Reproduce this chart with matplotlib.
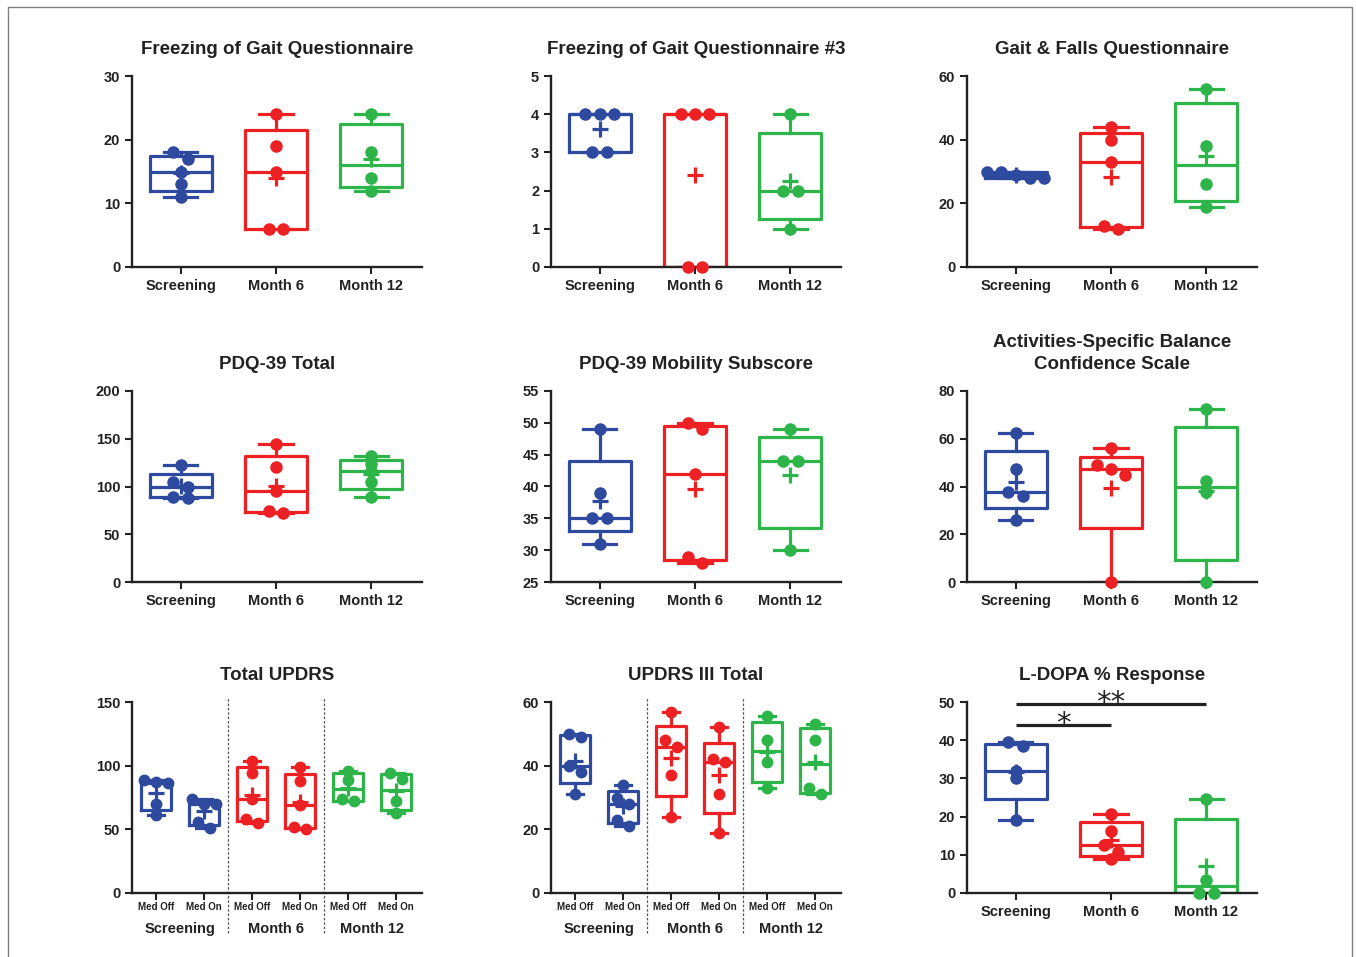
import numpy as np
import matplotlib.pyplot as plt
from matplotlib.patches import Rectangle

plt.rcParams['font.family'] = ['Liberation Sans', 'DejaVu Sans']
plt.rcParams['font.weight'] = 'bold'
plt.rcParams['axes.titleweight'] = 'bold'

visits = ['Screening', 'Month 6', 'Month 12']
med_states = ['Med Off', 'Med On']
colors = ['#2e4a9e', '#ed2024', '#2db54a']

# one list per visit (screening, month 6, month 12)
fogq = [[18, 17, 15, 13, 11], [24, 19, 15, 6, 6], [24, 18, 14, 12]]
fogq3 = [[4, 4, 4, 3, 3], [4, 4, 4, 0, 0], [4, 2, 2, 1]]
gfq = [[28, 30, 29, 30, 28], [44, 40, 33, 13, 12], [56, 38, 26, 19]]
pdq_total = [[122, 105, 100, 89, 88], [144, 120, 95, 74, 72], [132, 124, 116, 105, 89]]
pdq_mobility = [[49, 39, 35, 35, 31], [50, 49, 42, 29, 28], [49, 44, 44, 30]]
abc = [[62.5, 47.5, 37.5, 36, 26], [56, 48.8, 47.5, 45, 0], [72.5, 42.5, 37.5, 0]]
ldopa = [[39.5, 38.5, 32, 30, 19], [20.8, 16.2, 12.5, 10.8, 8.8], [24.5, 3.5, 0, 0]]

# med off / med on at each visit
updrs_total = [[89, 87, 86, 70, 61], [74, 70, 70, 56, 51],
               [104, 94, 74, 58, 55], [99, 88, 69, 52, 50],
               [96, 89, 74, 72], [94.5, 89.8, 72.5, 62.8]]
updrs3 = [[50, 49, 40, 38, 31], [34, 30, 28, 23, 21],
          [57, 48, 46, 37, 24], [52, 42, 41, 31, 19],
          [55.5, 48, 41, 33], [53, 48, 33, 31]]

# significance brackets on the L-DOPA panel: (from, to, height, stars)
ldopa_sig = [(0, 1, 44, '*'), (0, 2, 49.5, '**')]

ink = '#222222'


def spread(vals, thr, step):
    # side-by-side offsets for points that would sit on top of each other
    order = np.argsort(vals)[::-1]
    offs = np.zeros(len(vals))
    groups = [[order[0]]]
    for k in order[1:]:
        if vals[groups[-1][-1]] - vals[k] < thr:
            groups[-1].append(k)
        else:
            groups.append([k])
    for g in groups:
        for i, k in enumerate(g):
            offs[k] = (i - (len(g) - 1) / 2) * step
    return offs


def panel(ax, data, cols, ylim, yticks, title, bw, cw, step, ms):
    pos = np.arange(len(data))
    stats = []
    for v in data:
        q1, med, q3 = np.percentile(v, [25, 50, 75], method='weibull')
        stats.append(dict(med=med, q1=q1, q3=q3, whislo=min(v), whishi=max(v),
                          mean=np.mean(v), fliers=[]))
    bp = ax.bxp(stats, positions=pos, widths=bw, capwidths=cw, showmeans=True,
                manage_ticks=False,
                meanprops=dict(marker='+', markersize=11, markeredgewidth=2.3))
    for i, c in enumerate(cols):
        bp['boxes'][i].set(color=c, linewidth=2.3)
        bp['medians'][i].set(color=c, linewidth=2.3)
        bp['means'][i].set(color=c, markeredgecolor=c, zorder=4)
        for art in bp['whiskers'][2 * i:2 * i + 2] + bp['caps'][2 * i:2 * i + 2]:
            art.set(color=c, linewidth=2.3)
        v = np.array(data[i], dtype=float)
        offs = spread(v, 0.035 * (ylim[1] - ylim[0]), step)
        ax.plot(pos[i] + offs, v, 'o', color=c, ms=ms, zorder=3, clip_on=False)
    ax.set_ylim(*ylim)
    ax.set_yticks(yticks)
    ax.set_title(title, fontsize=13.5, pad=15.5, color=ink, linespacing=1.4)
    for s in ['top', 'right']:
        ax.spines[s].set_visible(False)
    for s in ['left', 'bottom']:
        ax.spines[s].set_linewidth(1.7)
        ax.spines[s].set_color(ink)
    ax.tick_params(width=1.5, length=5, color=ink, labelcolor=ink, labelsize=10.5)
    ax.set_xticks(pos)


fig = plt.figure(figsize=(13.56, 9.57), dpi=100)
W, H = 1356, 957
lefts = [132, 551, 967]
tops = [76, 391, 702]


def make_ax(r, c):
    return fig.add_axes([lefts[c] / W, 1 - (tops[r] + 191) / H, 290 / W, 191 / H])


three = [
    (fogq, (0, 30), [0, 10, 20, 30], 'Freezing of Gait Questionnaire'),
    (fogq3, (0, 5), range(6), 'Freezing of Gait Questionnaire #3'),
    (gfq, (0, 60), [0, 20, 40, 60], 'Gait & Falls Questionnaire'),
    (pdq_total, (0, 200), [0, 50, 100, 150, 200], 'PDQ-39 Total'),
    (pdq_mobility, (25, 55), range(25, 56, 5), 'PDQ-39 Mobility Subscore'),
    (abc, (0, 80), [0, 20, 40, 60, 80], 'Activities-Specific Balance\nConfidence Scale'),
]
for n, (data, ylim, yt, title) in enumerate(three):
    ax = make_ax(n // 3, n % 3)
    panel(ax, data, colors, ylim, yt, title, 0.65, 0.35, 0.15, 8)
    ax.set_xlim(-0.51, 2.53)
    ax.set_xticklabels(visits)

# paired med off / med on panels
pair_cols = [colors[0], colors[0], colors[1], colors[1], colors[2], colors[2]]
for c, (data, ylim, yt, title) in enumerate([
        (updrs_total, (0, 150), [0, 50, 100, 150], 'Total UPDRS'),
        (updrs3, (0, 60), [0, 20, 40, 60], 'UPDRS III Total')]):
    ax = make_ax(2, c)
    panel(ax, data, pair_cols, ylim, yt, title, 0.63, 0.33, 0.24, 7.5)
    ax.set_xlim(-0.5, 5.54)
    ax.set_xticklabels(med_states * 3, fontsize=7)
    ax.tick_params(axis='x', pad=1.5)
    tr = ax.get_xaxis_transform()
    for k, name in enumerate(visits):
        ax.text(2 * k + 0.5, -0.19, name, transform=tr, ha='center', va='center',
                fontsize=10.5, color=ink)
    for xs in [1.5, 3.5]:
        ax.plot([xs, xs], [-0.21, 1.02], transform=tr, clip_on=False,
                color='#555555', lw=0.9, ls=(0, (2, 1.5)))

# L-DOPA response with significance bars
ax = make_ax(2, 2)
panel(ax, ldopa, colors, (0, 50), [0, 10, 20, 30, 40, 50], 'L-DOPA % Response',
      0.65, 0.35, 0.15, 8)
ax.set_xlim(-0.51, 2.53)
ax.set_xticklabels(visits)
for x0, x1, y, stars in ldopa_sig:
    ax.plot([x0, x1], [y, y], color=ink, lw=2.3, clip_on=False, solid_capstyle='butt')
    ax.text((x0 + x1) / 2, y - 1.8, stars, ha='center', va='baseline', fontsize=21,
            fontweight='normal', family='DejaVu Sans', color=ink)

fig.add_artist(Rectangle((8 / W, -0.01), 1344 / W, 1 - 7 / H + 0.01,
                         transform=fig.transFigure, fill=False,
                         edgecolor='#808080', linewidth=1))

fig.savefig('out.png', dpi=100)
